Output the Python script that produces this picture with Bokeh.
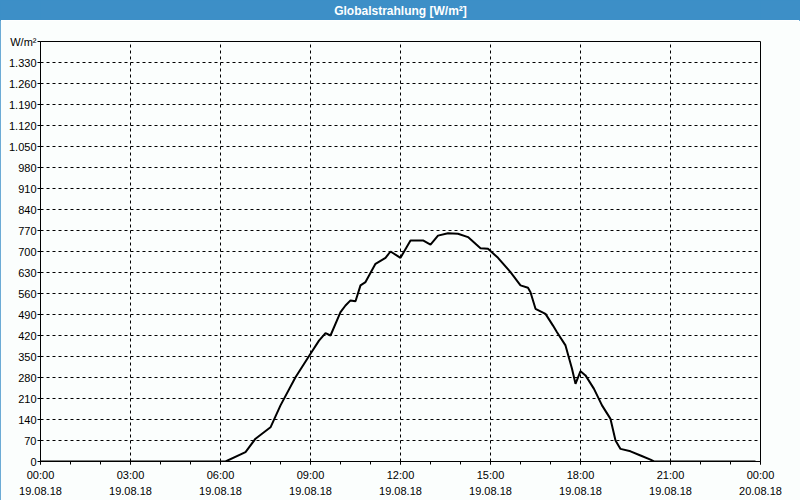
from bokeh.plotting import figure
from bokeh.models import FixedTicker, Label
from bokeh.layouts import column
from bokeh.embed import file_html
from bokeh.resources import INLINE

# --- data (time of day on 19.08.18, global radiation in W/m²) ---
times = ["00:00", "06:00", "06:10", "06:50", "07:10", "07:40", "08:00", "08:30",
         "09:00", "09:17", "09:30", "09:40", "10:00", "10:10", "10:20", "10:30",
         "10:40", "10:50", "11:10", "11:30", "11:40", "12:00", "12:20", "12:45",
         "13:00", "13:15", "13:35", "13:55", "14:15", "14:40", "14:55", "15:15",
         "15:40", "16:00", "16:15", "16:20", "16:30", "16:50", "17:05", "17:13",
         "17:30", "17:43", "17:50", "18:00", "18:10", "18:27", "18:43", "19:00",
         "19:10", "19:20", "19:40", "20:00", "20:20", "20:27", "23:50"]
values = [0, 0, 0, 31, 76, 114, 187, 281,
          359, 403, 428, 420, 498, 520, 537, 534,
          587, 598, 659, 679, 700, 679, 737, 737,
          723, 753, 761, 759, 748, 711, 709, 679,
          631, 587, 579, 564, 509, 492, 453, 431,
          387, 309, 259, 301, 287, 242, 187, 142,
          70, 42, 34, 20, 6, 0, 0]

x_ticks = [0, 3, 6, 9, 12, 15, 18, 21, 24]
x_tick_labels = ["00:00\n19.08.18", "03:00\n19.08.18", "06:00\n19.08.18",
                 "09:00\n19.08.18", "12:00\n19.08.18", "15:00\n19.08.18",
                 "18:00\n19.08.18", "21:00\n19.08.18", "00:00\n20.08.18"]
y_ticks = list(range(0, 1401, 70))
y_tick_labels = ["0", "70", "140", "210", "280", "350", "420", "490", "560",
                 "630", "700", "770", "840", "910", "980", "1.050", "1.120",
                 "1.190", "1.260", "1.330", "W/m²"]
chart_title = "Globalstrahlung [W/m²]"

hours = [int(t[:2]) + int(t[3:]) / 60 for t in times]

BLUE = "#3d8fc7"
BG = "#fbfefd"
FONT = "Liberation Sans"

# --- title bar ---
tb = figure(width=800, height=20, x_range=(0, 1), y_range=(0, 1),
            output_backend="svg", toolbar_location=None,
            min_border=0, background_fill_color=BLUE, border_fill_color=BLUE,
            outline_line_color=None,
            styles={"background-color": BLUE})
tb.axis.visible = False
tb.grid.visible = False
tb.add_layout(Label(x=0.5, y=0.5, text=chart_title, text_align="center",
                    text_baseline="middle", text_font=FONT,
                    text_font_style="bold", text_font_size="12px",
                    text_color="white"))

# --- main chart ---
p = figure(width=800, height=480, x_range=(0, 24), y_range=(0, 1400),
           output_backend="svg", toolbar_location=None,
           min_border_left=40, min_border_right=40, min_border_top=21,
           min_border_bottom=39,
           background_fill_color=BG, border_fill_color=BG)

p.outline_line_color = "black"
p.outline_line_width = 1

p.line(hours, values, line_color="black", line_width=2)

# x axis
xa = p.xaxis[0]
xa.ticker = FixedTicker(ticks=x_ticks, minor_ticks=list(range(0, 25)))
xa.major_label_overrides = {t: l for t, l in zip(x_ticks, x_tick_labels)}
xa.major_label_text_font = FONT
xa.major_label_text_font_size = "11px"
xa.major_label_text_color = "black"
xa.major_label_text_line_height = 1.35
xa.major_tick_out = 3
xa.major_tick_in = 0
xa.minor_tick_out = 3
xa.minor_tick_in = 0
xa.major_label_standoff = 4
xa.axis_line_color = "black"

# y axis
ya = p.yaxis[0]
ya.ticker = FixedTicker(ticks=y_ticks)
ya.major_label_overrides = {t: l for t, l in zip(y_ticks, y_tick_labels)}
ya.major_label_text_font = FONT
ya.major_label_text_font_size = "11px"
ya.major_label_text_color = "black"
ya.major_tick_out = 3
ya.major_tick_in = 0
ya.minor_tick_line_color = None
ya.major_label_standoff = 1
ya.axis_line_color = "black"

for g in (p.xgrid[0], p.ygrid[0]):
    g.grid_line_color = "black"
    g.grid_line_dash = "3 3"
    g.grid_line_width = 1
    g.grid_line_alpha = 1

layout = column(tb, p, spacing=0,
                styles={"outline": f"1px solid {BLUE}",
                        "outline-offset": "-1px"})
open("out.html", "w").write(file_html(layout, INLINE))
